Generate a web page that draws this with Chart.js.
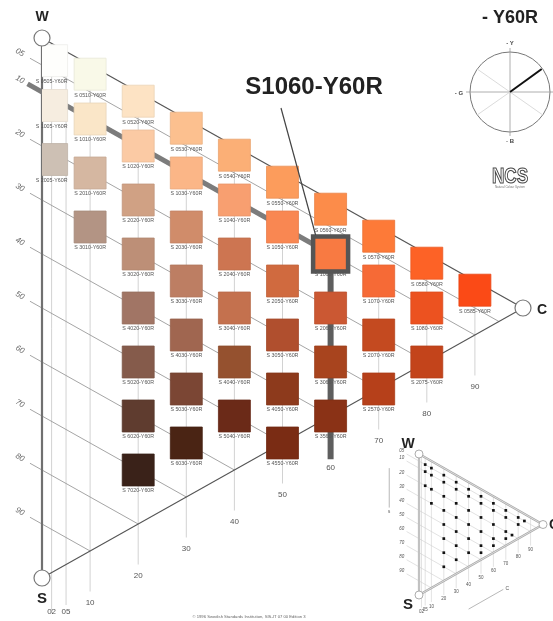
<!DOCTYPE html>
<html>
<head>
<meta charset="utf-8">
<script src="https://cdn.jsdelivr.net/npm/chart.js@4.4.0/dist/chart.umd.min.js"></script>
<style>
  html, body { margin: 0; padding: 0; background: #fff; }
  #wrap { position: relative; width: 553px; height: 621px; }
  canvas { position: absolute; left: 0; top: 0; }
</style>
</head>
<body>
<div id="wrap">
  <canvas id="triangulo" width="553" height="621"></canvas>
  <canvas id="mini" width="553" height="621"></canvas>
</div>
<script>
const hue = 'Y60R';
const selected = '1060';

// NCS nuance (blackness + chromaticness) of every sample on the page
const samples = [
  '0505', '1005', '2005',
  '0510', '1010', '2010', '3010',
  '0520', '1020', '2020', '3020', '4020', '5020', '6020', '7020',
  '0530', '1030', '2030', '3030', '4030', '5030', '6030',
  '0540', '1040', '2040', '3040', '4040', '5040',
  '0550', '1050', '2050', '3050', '4050', '4550',
  '0560', '1060', '2060', '3060', '3560',
  '0570', '1070', '2070', '2570',
  '0580', '1080', '2075',
  '0585'
];
const sampleColours = [
  '#fefefc', '#f6ede0', '#cdc0b4',
  '#f9f9e8', '#fae6c8', '#d5b7a1', '#b39484',
  '#fde3c4', '#fbcaa4', '#d0a184', '#bd8f77', '#a17565', '#855b4b', '#5f3c2f', '#3a2219',
  '#fcc08f', '#fbb687', '#d08c6a', '#bd7e63', '#a06650', '#7b4634', '#4a2414',
  '#fbaf76', '#f89f70', '#cd7551', '#c4714e', '#95512f', '#6b2a18',
  '#fc9c5c', '#f98752', '#d06a3f', '#b04f2e', '#8d3a1c', '#7a2c14',
  '#fc8c4a', '#f87a42', '#cb5833', '#a8441e', '#8a3216',
  '#fd7a38', '#f66a36', '#c44a20', '#b6401a',
  '#fd6226', '#ec5220', '#c3441b',
  '#fb4a16'
];

const blacknessTicks = [5, 10, 20, 30, 40, 50, 60, 70, 80, 90];
const blacknessLabels = ['05', '10', '20', '30', '40', '50', '60', '70', '80', '90'];
const chromaTicks = [2, 5, 10, 20, 30, 40, 50, 60, 70, 80, 90];
const chromaLabels = ['02', '05', '10', '20', '30', '40', '50', '60', '70', '80', '90'];

const fonte = "'Liberation Sans', Arial, sans-serif";

function blackness(n) { return parseInt(n.slice(0, 2), 10); }
function chroma(n) { return parseInt(n.slice(2), 10); }
function ceil10(v) { return Math.ceil(v / 10) * 10; }

// the atlas page puts each sample on its 10-step grid: the 05 row is lifted
// so it clears the 10 row, and the 05 column sits against the 02 line
function atlasPoint(n) {
  const s = blackness(n), c = chroma(n);
  const gc = c < 10 ? c : ceil10(c);
  const gs = s < 10 ? s - 3.3 : ceil10(s);
  return { x: c < 10 ? 2 : gc, y: gs + gc / 2 };
}
// true position in the little triangle
function truePoint(n) {
  const s = blackness(n), c = chroma(n);
  return { x: c, y: s + c / 2 };
}

function darken(hex, f) {
  const v = parseInt(hex.slice(1), 16);
  const r = Math.round(((v >> 16) & 255) * f);
  const g = Math.round(((v >> 8) & 255) * f);
  const b = Math.round((v & 255) * f);
  return 'rgb(' + r + ',' + g + ',' + b + ')';
}

function ponto(chart, c, s) {
  return {
    x: chart.scales.x.getPixelForValue(c),
    y: chart.scales.y.getPixelForValue(s + c / 2)
  };
}

function linha(ctx, a, b, cor, largura) {
  ctx.beginPath();
  ctx.moveTo(a.x, a.y);
  ctx.lineTo(b.x, b.y);
  ctx.strokeStyle = cor;
  ctx.lineWidth = largura;
  ctx.stroke();
}

function texto(ctx, t, x, y, font, cor, align) {
  ctx.font = font;
  ctx.fillStyle = cor;
  ctx.textAlign = align || 'center';
  ctx.textBaseline = 'middle';
  ctx.fillText(t, x, y);
}

function circulo(ctx, p, r, cor, largura) {
  ctx.beginPath();
  ctx.arc(p.x, p.y, r, 0, Math.PI * 2);
  ctx.fillStyle = '#fff';
  ctx.fill();
  ctx.strokeStyle = cor;
  ctx.lineWidth = largura;
  ctx.stroke();
}

// grid of the big triangle, under the samples
const gradeTriangulo = {
  id: 'gradeTriangulo',
  beforeDatasetsDraw(chart) {
    const ctx = chart.ctx;
    ctx.save();

    chromaTicks.forEach((c, i) => {
      linha(ctx, ponto(chart, c, 0), ponto(chart, c, 100 - c + 7.5), '#c6c6c6', 0.8);
      const p = ponto(chart, c, 100 - c + 9.5);
      texto(ctx, chromaLabels[i], p.x, Math.min(p.y, 612), '8px ' + fonte, '#555');
    });

    blacknessTicks.forEach((s, i) => {
      const a = ponto(chart, -2.5, s), b = ponto(chart, 100 - s, s);
      linha(ctx, a, b, '#8e8e8e', 0.8);
      const p = ponto(chart, -4.6, s);
      ctx.save();
      ctx.translate(p.x, p.y);
      ctx.rotate(Math.atan2(b.y - a.y, b.x - a.x));
      texto(ctx, blacknessLabels[i], 0, 0, 'italic 8px ' + fonte, '#666');
      ctx.restore();
    });

    const W = ponto(chart, 0, 0), S = ponto(chart, 0, 100), C = ponto(chart, 100, 0);
    linha(ctx, W, S, '#707070', 2.2);
    linha(ctx, W, C, '#555', 1.2);
    linha(ctx, S, C, '#555', 1.1);

    // blackness and chromaticness lines of the selected nuance
    const s = blackness(selected), c = chroma(selected);
    ctx.lineCap = 'butt';
    linha(ctx, ponto(chart, -3, s), ponto(chart, c, s), '#7c7c7c', 5);
    linha(ctx, ponto(chart, c, s), ponto(chart, c, 100 - c + 8), '#5e5e5e', 6);
    ctx.restore();
  },
  afterDatasetsDraw(chart) {
    const ctx = chart.ctx;
    const meta = chart.getDatasetMeta(0);
    ctx.save();
    meta.data.forEach((el, i) => {
      texto(ctx, 'S ' + samples[i] + '-' + hue, el.x, el.y + 21, '5.3px ' + fonte, '#555');
    });

    const sel = meta.data[samples.indexOf(selected)];
    ctx.strokeStyle = '#555';
    ctx.lineWidth = 4.5;
    ctx.strokeRect(sel.x - 17.5, sel.y - 17.5, 35, 35);
    linha(ctx, { x: sel.x - 15, y: sel.y - 19 }, { x: 281, y: 108 }, '#444', 1.2);

    const W = ponto(chart, 0, 0), S = ponto(chart, 0, 100), C = ponto(chart, 100, 0);
    circulo(ctx, W, 8, '#777', 1.2);
    circulo(ctx, S, 8, '#777', 1.2);
    circulo(ctx, C, 8, '#777', 1.2);
    texto(ctx, 'W', W.x, W.y - 21, 'bold 14px ' + fonte, '#222');
    texto(ctx, 'S', S.x, S.y + 21, 'bold 15px ' + fonte, '#222');
    texto(ctx, 'C', C.x + 19, C.y + 2, 'bold 14px ' + fonte, '#222');
    ctx.restore();
  },
  afterDraw(chart) {
    const ctx = chart.ctx;
    ctx.save();
    ctx.textBaseline = 'alphabetic';
    ctx.font = 'bold 24px ' + fonte;
    ctx.fillStyle = '#222';
    ctx.textAlign = 'center';
    ctx.fillText('S' + selected + '-' + hue, 314, 94);
    ctx.font = 'bold 18px ' + fonte;
    ctx.fillText('- ' + hue, 510, 23);

    // hue circle: Y on top, R right, B bottom, G left
    const cx = 510, cy = 92, r = 40;
    ctx.beginPath();
    ctx.arc(cx, cy, r, 0, Math.PI * 2);
    ctx.strokeStyle = '#777';
    ctx.lineWidth = 1;
    ctx.stroke();
    linha(ctx, { x: cx, y: cy - r - 4 }, { x: cx, y: cy + r + 4 }, '#999', 0.8);
    linha(ctx, { x: cx - r - 4, y: cy }, { x: cx + r + 4, y: cy }, '#999', 0.8);
    [35, -35].forEach(d => {
      const a = d * Math.PI / 180;
      const dx = Math.cos(a) * r, dy = Math.sin(a) * r;
      linha(ctx, { x: cx - dx, y: cy - dy }, { x: cx + dx, y: cy + dy }, '#d2d2d2', 0.8);
    });
    const share = parseInt(hue.slice(1, 3), 10) / 100;
    const ang = share * Math.PI / 2;
    linha(ctx, { x: cx, y: cy }, { x: cx + Math.sin(ang) * r * 0.98, y: cy - Math.cos(ang) * r * 0.98 }, '#111', 2);
    texto(ctx, '- Y', cx, cy - r - 9, 'bold 6px ' + fonte, '#444');
    texto(ctx, '- G', cx - r - 11, cy + 1, 'bold 6px ' + fonte, '#444');
    texto(ctx, '- B', cx, cy + r + 9, 'bold 6px ' + fonte, '#444');

    // NCS logo
    ctx.save();
    ctx.translate(510, 183);
    ctx.scale(0.78, 1);
    ctx.font = 'bold 22px ' + fonte;
    ctx.textAlign = 'center';
    ctx.textBaseline = 'alphabetic';
    ctx.lineWidth = 1.1;
    ctx.strokeStyle = '#444';
    ctx.strokeText('NCS', 0, 0);
    ctx.restore();
    texto(ctx, 'Natural Colour System', 510, 187, '3px ' + fonte, '#777');

    texto(ctx, '\u00a9 1996 Swedish Standards Institution, SIS-IT 07 00 Edition 3', 249, 617, '4.2px ' + fonte, '#666');
    ctx.restore();
  }
};

const graficoTriangulo = new Chart(document.getElementById('triangulo'), {
  type: 'scatter',
  data: {
    datasets: [{
      label: hue,
      data: samples.map(atlasPoint),
      pointStyle: 'rect',
      pointRadius: 22.6,
      pointHoverRadius: 22.6,
      pointBackgroundColor: sampleColours,
      pointBorderColor: sampleColours.map(c => darken(c, 0.93)),
      pointBorderWidth: 0.8
    }]
  },
  options: {
    responsive: false,
    animation: false,
    events: [],
    layout: { padding: { left: 42, right: 30, top: 38, bottom: 43 } },
    scales: {
      x: { type: 'linear', min: 0, max: 100, display: false },
      y: { type: 'linear', min: 0, max: 100, reverse: true, display: false }
    },
    plugins: { legend: { display: false }, tooltip: { enabled: false } }
  },
  plugins: [gradeTriangulo]
});

// the little triangle in the corner shows where every sample really sits
const gradeMini = {
  id: 'gradeMini',
  beforeDatasetsDraw(chart) {
    const ctx = chart.ctx;
    ctx.save();
    chromaTicks.forEach((c, i) => {
      linha(ctx, ponto(chart, c, 0), ponto(chart, c, 100 - c + 10), '#cfcfcf', 0.6);
      const p = ponto(chart, c, 100 - c + 13);
      texto(ctx, chromaLabels[i], p.x, p.y, '4.5px ' + fonte, '#555');
    });
    blacknessTicks.forEach((s, i) => {
      linha(ctx, ponto(chart, -10, s), ponto(chart, 100 - s, s), '#cfcfcf', 0.6);
      const p = ponto(chart, -14, s);
      texto(ctx, blacknessLabels[i], p.x, p.y, 'italic 4.5px ' + fonte, '#555');
    });
    const W = ponto(chart, 0, 0), S = ponto(chart, 0, 100), C = ponto(chart, 100, 0);
    [[W, S], [W, C], [S, C]].forEach(e => {
      linha(ctx, e[0], e[1], '#a8a8a8', 2.2);
      linha(ctx, e[0], e[1], '#f2f2f2', 0.7);
    });
    // axis arrows
    const a1 = ponto(chart, -24, 22), a2 = ponto(chart, -24, 50);
    linha(ctx, a1, a2, '#888', 0.6);
    texto(ctx, 's', a2.x, a2.y + 4, '4.5px ' + fonte, '#555');
    const b1 = ponto(chart, 40, 90), b2 = ponto(chart, 68, 62);
    linha(ctx, b1, b2, '#888', 0.6);
    texto(ctx, 'C', b2.x + 4, b2.y - 1, '5px ' + fonte, '#555');
    ctx.restore();
  },
  afterDatasetsDraw(chart) {
    const ctx = chart.ctx;
    ctx.save();
    const W = ponto(chart, 0, 0), S = ponto(chart, 0, 100), C = ponto(chart, 100, 0);
    circulo(ctx, W, 4, '#999', 0.8);
    circulo(ctx, S, 4, '#999', 0.8);
    circulo(ctx, C, 4, '#999', 0.8);
    texto(ctx, 'W', W.x - 11, W.y - 10, 'bold 14px ' + fonte, '#222');
    texto(ctx, 'S', S.x - 11, S.y + 10, 'bold 15px ' + fonte, '#222');
    texto(ctx, 'C', C.x + 6, C.y + 1, 'bold 14px ' + fonte, '#222', 'left');
    ctx.restore();
  }
};

const graficoMini = new Chart(document.getElementById('mini'), {
  type: 'scatter',
  data: {
    datasets: [{
      label: 'mini',
      data: samples.map(truePoint),
      pointStyle: 'rect',
      pointRadius: 1.9,
      pointHoverRadius: 1.9,
      pointBackgroundColor: '#111',
      pointBorderWidth: 0
    }]
  },
  options: {
    responsive: false,
    animation: false,
    events: [],
    layout: { padding: { left: 419, right: 10, top: 454, bottom: 26 } },
    scales: {
      x: { type: 'linear', min: 0, max: 100, display: false },
      y: { type: 'linear', min: 0, max: 100, reverse: true, display: false }
    },
    plugins: { legend: { display: false }, tooltip: { enabled: false } }
  },
  plugins: [gradeMini]
});
</script>
</body>
</html>
